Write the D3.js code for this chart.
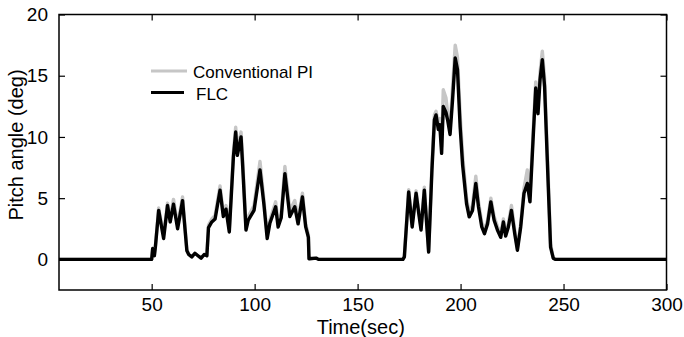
<!DOCTYPE html>
<html>
<head>
<meta charset="utf-8">
<script src="https://cdn.jsdelivr.net/npm/d3@7"></script>
<style>
    body { margin: 0; background: #fff; }
    svg text { font-family: Arial, "Liberation Sans", sans-serif; fill: #000; }
</style>
</head>
<body>
<svg id="chart" width="684" height="337"></svg>
<script>

// sample times (sec)
var time = [5, 50, 50.5, 51.3, 51.8, 53.4, 55.8, 57.7, 59, 60.6, 62.6, 65, 67.1,
    68, 69.5, 71, 72.5, 74, 75.5, 76.8, 77.6, 79.2, 80.8, 83.2, 84.8, 86.1, 87.7,
    89.7, 90.8, 91.6, 93.4, 94.2, 95.8, 96.9, 99.7, 102.6, 104.5, 106.1, 107.4,
    110.2, 111.4, 112.9, 114.7, 117.1, 119.5, 121.1, 123.2, 124.8, 126.1, 126.4,
    130, 131, 172, 172.7, 174.8, 176.5, 178.4, 179.7, 180.8, 182.4, 184.5, 186.1,
    187.3, 188.1, 189.2, 189.9, 190.8, 191.6, 192.9, 193.7, 194.9, 196.1, 197.4,
    198.5, 199.8, 201, 202.9, 204.2, 205.8, 207.4, 208.7, 210.3, 211.6, 213.1,
    214.7, 216.3, 217.9, 219.5, 220.8, 221.9, 223.2, 224.7, 226.3, 227.6, 229.2,
    230.8, 232.4, 233.7, 235.2, 236.5, 237.6, 238.6, 239.7, 240.8, 242.6, 243.7,
    245, 246, 300];

// FLC pitch angle (deg)
var flc = [0, 0, 0.9, 0.3, 1.0, 4.0, 1.7, 4.4, 3.06, 4.5, 2.5, 4.8, 0.7,
    0.4, 0.2, 0.5, 0.3, 0.1, 0.4, 0.3, 2.6, 3.06, 3.3, 5.65, 3.5, 4.1, 2.24,
    8.4, 10.4, 8.5, 10.0, 7.6, 2.4, 3.2, 4.0, 7.3, 4.5, 1.7, 2.95,
    4.3, 2.65, 3.4, 7.0, 3.5, 4.3, 2.9, 5.1, 2.65, 1.8, 0.05,
    0.1, 0, 0, 0.2, 5.5, 2.65, 5.4, 3.75, 2.4, 5.65, 0.6, 7.3,
    11.4, 11.8, 10.6, 11.0, 8.66, 12.5, 12.0, 11.4, 10.2, 13.0, 16.45,
    15.5, 10.8, 7.7, 4.55, 3.47, 4.0, 6.2, 4.3, 2.65, 2.1, 2.9,
    4.7, 3.2, 2.4, 1.8, 3.06, 1.9, 2.65, 4.0, 2.1, 0.74, 2.65,
    5.4, 6.2, 4.7, 9.75, 14.0, 11.9, 14.7, 16.3, 14.1, 5.9, 1.0,
    0.1, 0, 0];

// Conventional PI pitch angle (deg)
var pi = [0, 0, 0.9, 0.3, 1.1, 4.2, 2.0, 4.6, 3.3, 4.9, 2.8, 5.1, 0.8,
    0.4, 0.2, 0.5, 0.3, 0.1, 0.4, 0.3, 2.8, 3.3, 3.6, 6.0, 3.8, 4.4, 2.5,
    8.8, 10.8, 9.0, 10.4, 8.2, 2.6, 3.5, 4.4, 8.0, 4.9, 2.0, 3.2,
    4.7, 3.0, 3.7, 7.6, 4.0, 4.8, 3.3, 5.4, 2.9, 2.0, 0.05,
    0.1, 0, 0, 0.2, 5.7, 2.9, 5.6, 4.0, 2.6, 5.9, 0.7, 7.8,
    11.8, 12.1, 11.1, 11.5, 9.2, 13.85, 13.2, 12.0, 10.8, 14.0, 17.5,
    16.5, 11.8, 8.5, 5.0, 3.8, 4.4, 6.8, 4.7, 3.0, 2.4, 3.2,
    5.0, 3.5, 2.7, 2.1, 3.3, 2.2, 2.9, 4.4, 2.4, 0.9, 2.9,
    5.8, 7.3, 5.2, 10.3, 14.5, 12.5, 15.3, 17.0, 14.8, 6.6, 1.3,
    0.1, 0, 0];

var xTicks = [50, 100, 150, 200, 250, 300];
var yTicks = [0, 5, 10, 15, 20];

var seriesNames = ["Conventional PI", "FLC"];
var seriesColors = ["#c6c6c6", "#000000"];


var svg = d3.select("#chart");

var box = { left: 59, right: 666.5, top: 14.5, bottom: 290 };

var x = d3.scaleLinear()
    .domain([5, 300])
    .range([box.left, box.right]);

var y = d3.scaleLinear()
    .domain([-2.5, 20])
    .range([box.bottom, box.top]);

var line = d3.line()
    .x(d => x(d.t))
    .y(d => y(d.v));

function points(values) {
    return time.map((t, i) => ({ t: t, v: values[i] }));
}

// data lines, PI underneath
[pi, flc].forEach(function(values, i) {
    svg.append("path")
        .datum(points(values))
        .attr("fill", "none")
        .attr("stroke", seriesColors[i])
        .attr("stroke-width", 3.4)
        .attr("stroke-linejoin", "round")
        .attr("d", line);
});

// axes, matlab style: ticks inward on all four sides
var tickLen = 6;

svg.append("g")
    .attr("transform", "translate(0," + box.bottom + ")")
    .call(d3.axisBottom(x).tickValues(xTicks).tickSizeInner(-tickLen).tickSizeOuter(0).tickPadding(8))
    .call(g => g.selectAll("text").style("font-size", "19px"));

svg.append("g")
    .attr("transform", "translate(0," + box.top + ")")
    .call(d3.axisTop(x).tickValues(xTicks).tickSizeInner(-tickLen).tickSizeOuter(0).tickFormat(""));

svg.append("g")
    .attr("transform", "translate(" + box.left + ",0)")
    .call(d3.axisLeft(y).tickValues(yTicks).tickSizeInner(-tickLen).tickSizeOuter(0).tickPadding(11))
    .call(g => g.selectAll("text").style("font-size", "19px"));

svg.append("g")
    .attr("transform", "translate(" + box.right + ",0)")
    .call(d3.axisRight(y).tickValues(yTicks).tickSizeInner(-tickLen).tickSizeOuter(0).tickFormat(""));

svg.selectAll(".domain").remove();
svg.selectAll(".tick line").attr("stroke", "#000").attr("stroke-width", 1.2);

svg.append("rect")
    .attr("x", box.left)
    .attr("y", box.top)
    .attr("width", box.right - box.left)
    .attr("height", box.bottom - box.top)
    .attr("fill", "none")
    .attr("stroke", "#000")
    .attr("stroke-width", 1.5);

// axis titles
svg.append("text")
    .attr("x", (box.left + box.right) / 2 - 2)
    .attr("y", 333.5)
    .attr("text-anchor", "middle")
    .style("font-size", "20px")
    .text("Time(sec)");

svg.append("text")
    .attr("transform", "translate(23,145) rotate(-90)")
    .attr("text-anchor", "middle")
    .style("font-size", "20px")
    .text("Pitch angle (deg)");

// legend
var legend = svg.append("g").attr("class", "legend");
var legendRows = [
    { y: 71, x1: 151, x2: 187, tx: 193 },
    { y: 92.5, x1: 151, x2: 184, tx: 196 }
];

legendRows.forEach(function(r, i) {
    legend.append("line")
        .attr("x1", r.x1).attr("x2", r.x2)
        .attr("y1", r.y).attr("y2", r.y)
        .attr("stroke", seriesColors[i])
        .attr("stroke-width", 3);
    legend.append("text")
        .attr("x", r.tx)
        .attr("y", r.y + 7)
        .style("font-size", "17px")
        .text(seriesNames[i]);
});

</script>
</body>
</html>
